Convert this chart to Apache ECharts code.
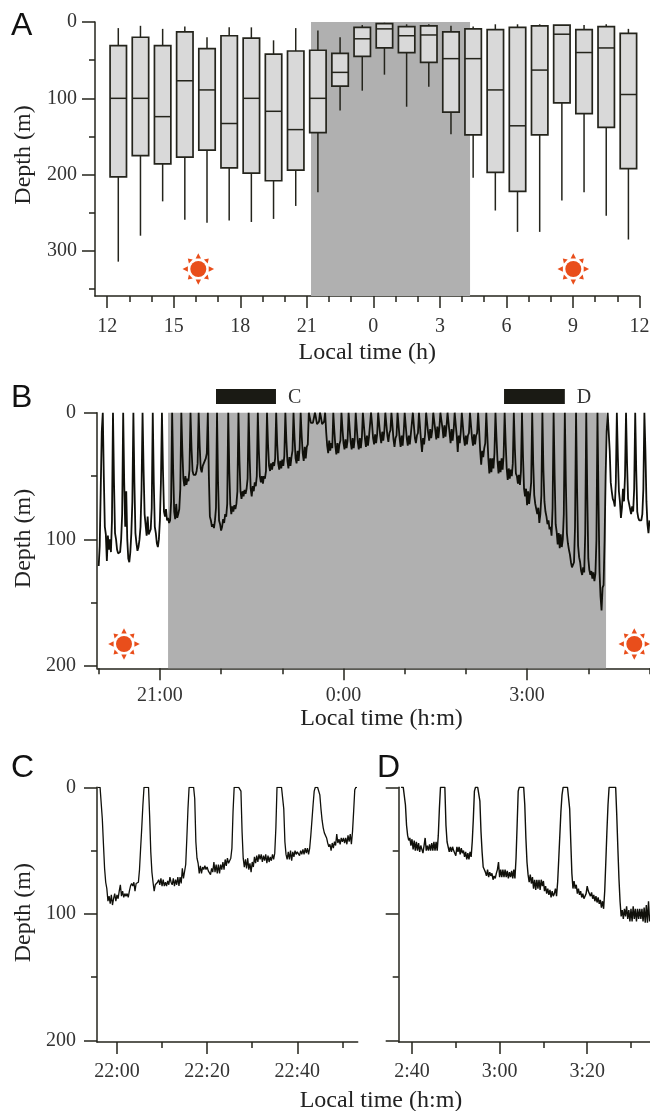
<!DOCTYPE html>
<html>
<head>
<meta charset="utf-8">
<style>html,body{margin:0;padding:0;background:#fff}#c{width:650px;height:1111px}</style>
<script src="https://cdn.jsdelivr.net/npm/echarts@6/dist/echarts.min.js"></script>
</head>
<body>
<div id="c"></div>
<script>
// ---------- Panel A: hours since 12:00, depth in metres ----------
const aHours = [0.5,1.5,2.5,3.5,4.5,5.5,6.5,7.5,8.5,9.5,10.5,11.5,12.5,13.5,14.5,15.5,16.5,17.5,18.5,19.5,20.5,21.5,22.5,23.5];
const aWhiskerTop = [8,5,9,6,20,7,7,24,8,11,20,4,1,3,3,5,6,3,3,3,4,4,3,9];
const aQ1 = [31,20,31,13,35,18,21,42,38,37,41,7,2,6,5,13,9,10,7,5,4,10,6,15];
const aMedian = [100,100,124,77,89,133,100,117,141,100,66,22,9,18,17,48,48,89,136,63,16,40,34,95];
const aQ3 = [203,175,186,177,168,191,198,208,194,145,84,45,34,40,53,118,148,197,222,148,106,120,138,192];
const aWhiskerBottom = [314,280,235,259,263,260,262,258,241,223,116,90,69,111,85,147,204,247,275,275,234,223,254,285];
const aTickHours = [0,3,6,9,12,15,18,21,24];
const aTickLabels = ['12','15','18','21','0','3','6','9','12'];
const aMinorHours = [1,2,4,5,7,8,10,11,13,14,16,17,19,20,22,23];
const aNight = [9.19,16.36];
const aDepthTicks = [0,100,200,300];
const aDepthMinor = [50,150,250,350];

// ---------- Panel B: one depth reading per minute from 20:00 ----------
const bDepth = [
121,105,60,15,
0,50,90,96,117,97,108,100,110,85,
0,55,95,100,108,111,112,110,100,80,
0,55,90,62,100,115,118,110,95,70,
0,55,95,103,109,106,100,90,60,
0,45,80,80,97,82,96,97,92,75,
0,55,90,95,103,106,100,85,55,
0,45,78,82,76,85,83,87,85,70,
0,45,78,84,72,83,80,76,60,
0,30,52,58,50,57,52,54,45,
0,28,46,49,50,49,46,40,
0,26,44,47,42,40,38,36,32,
0,50,82,85,90,88,91,85,75,
0,55,85,88,93,90,84,87,80,82,72,
0,45,72,80,74,78,73,76,72,62,
0,38,62,68,62,66,61,64,60,52,
0,36,60,66,58,62,55,58,50,
0,30,50,55,50,56,50,52,46,
0,25,42,46,40,45,39,42,36,
0,25,40,45,38,44,37,42,34,
0,22,38,44,35,42,35,30,
0,20,36,40,30,38,28,
0,18,32,38,27,36,27,25,
0,4,8,9,8,7,
0,4,9,8,7,
0,4,9,8,7,
0,15,26,32,22,30,24,28,
0,14,26,33,24,32,25,22,
0,13,24,29,21,28,22,
0,12,23,29,20,28,21,
0,12,23,29,20,28,20,
0,10,20,27,18,26,19,18,
0,9,20,25,17,24,17,
0,9,18,24,15,22,15,
0,9,18,23,16,14,
0,10,21,27,20,18,
0,10,20,27,18,26,16,
0,10,20,26,18,25,17,17,
0,10,20,24,18,16,
0,11,22,31,20,25,17,
0,8,16,22,13,20,14,
0,7,14,21,11,20,12,
0,6,12,20,10,19,11,
0,8,16,24,13,22,14,
0,9,18,31,18,24,15,
0,10,20,26,18,25,18,16,
0,10,20,26,17,25,18,16,
0,14,30,41,30,35,28,24,
0,18,36,48,36,47,36,44,32,
0,20,38,48,38,47,36,45,34,
0,24,44,53,44,52,45,50,40,
0,28,48,50,56,49,57,46,
0,35,60,66,60,73,62,72,64,55,
0,40,65,72,72,80,75,87,80,65,
0,45,70,78,82,88,85,92,90,97,75,
0,50,88,94,104,95,107,96,106,100,80,
0,55,95,103,108,112,118,122,123,118,90,
0,60,105,114,118,125,128,122,126,95,
0,65,115,124,128,125,131,126,133,127,100,
0,70,125,145,156,138,136,100,50,15,0,
0,30,55,62,68,70,74,55,
0,35,62,70,83,75,60,70,50,
0,40,68,72,76,80,74,78,60,
0,45,78,83,85,86,85,80,60,
0,30,70,88,95,85
];
const bStepMinutes = 1;
const bTickMinutes = [60,240,420];
const bTickLabels = ['21:00','0:00','3:00'];
const bMinorMinutes = [0,120,180,300,360,480,540];
const bNight = [68,497.4];
const bWindows = [[115,173.8,'C'],[397.4,457,'D']];
const depthTicks = [0,100,200];
const depthMinor = [50,150];

// ---------- Panel C: one reading per quarter minute, minutes after 22:00 ----------
const cStart = -4.25;
const cDepth = [
0,0,0,0,25,45,64,75,80,90,86,92,85,93,88,84,90,85,88,82,77,86,82,87,84,86,84,87,82,78,76,78,75,82,76,76,75,65,48,32,14,0,0,0,0,0,
23,51,67,75,82,77,78,75,73,77,72,78,73,78,75,78,74,77,71,75,77,72,78,73,77,71,78,71,76,64,72,71,61,40,17,0,0,0,0,0,
9,43,56,60,68,62,68,63,65,62,65,63,66,65,69,64,67,59,67,61,68,61,68,61,65,59,65,57,62,56,60,59,56,48,19,0,0,0,0,0,0,
3,35,56,63,57,64,56,65,60,67,59,63,55,60,54,59,53,57,53,59,54,58,53,60,54,59,55,58,53,57,52,32,0,0,0,0,0,0,
17,43,53,57,51,57,50,58,51,55,50,53,51,50,54,50,53,49,53,48,52,48,53,48,38,26,14,3,0,0,0,0,
6,17,26,32,36,37,40,44,47,45,50,44,48,43,46,37,44,41,45,40,43,40,44,40,45,38,43,37,45,35,19,2,0,0
];
const cStepMinutes = 0.25;
const cTickMinutes = [0,20,40];
const cTickLabels = ['22:00','22:20','22:40'];
const cMinorMinutes = [10,30,50];

// ---------- Panel D: one reading per quarter minute, minutes after 2:40 ----------
const dStart = -2.5;
const dDepth = [
0,0,0,0,14,30,38,42,40,46,41,49,42,50,43,50,44,51,46,49,52,46,40,50,46,50,45,50,44,50,43,50,43,50,38,17,0,0,0,0,0,
30,43,44,51,47,51,47,50,49,54,47,51,47,53,48,52,50,55,51,57,52,57,51,55,43,25,3,0,0,0,0,
11,35,51,63,65,67,70,65,71,67,70,68,73,70,72,68,65,59,71,65,71,65,71,65,71,66,72,67,71,66,72,65,72,56,30,3,0,0,0,0,0,
14,40,59,69,75,69,76,71,80,73,81,73,80,73,81,73,78,74,82,78,84,80,85,81,87,82,86,84,80,86,75,57,38,19,6,0,0,0,0,0,0,
17,43,68,80,74,80,77,84,80,85,82,87,84,88,89,84,78,82,81,86,83,88,85,90,86,91,87,92,89,95,90,96,82,59,35,14,0,0,0,0,0,0,0,
22,48,72,90,102,97,104,96,102,94,104,97,106,96,106,94,104,96,106,96,104,96,104,96,106,95,107,93,107,90,106
];
const dStepMinutes = 0.25;
const dTickMinutes = [0,20,40];
const dTickLabels = ['2:40','3:00','3:20'];
const dMinorMinutes = [10,30,50];

// ---------- styling ----------
const INK = '#24241c', SERIF = '"Liberation Serif","Times New Roman",serif', SHADE = '#b0b0b0';
const tickFont = 20, titleFont = 24;

function xPair(grid, min, max, majors, labels, minors, margin, name, nameGap, padLeft){
  const base = {type:'value', gridIndex:grid, position:'bottom', min, max, splitLine:{show:false}, axisLine:{onZero:false, lineStyle:{color:INK,width:1.5}}};
  return [
    Object.assign({}, base, {
      name: name || '', nameLocation:'middle', nameGap: nameGap || 0, nameMoveOverlap:false,
      nameTextStyle:{fontFamily:SERIF,fontSize:titleFont,color:'#222',padding:[0,0,0,padLeft||0]},
      axisTick:{show:true,length:12,customValues:majors,lineStyle:{color:INK,width:1.5}},
      axisLabel:{show:true,customValues:majors,margin,fontFamily:SERIF,fontSize:tickFont,color:'#333',
        formatter:v=>labels[majors.indexOf(v)]}
    }),
    Object.assign({}, base, {
      axisLine:{show:false,onZero:false},
      axisTick:{show:true,length:6,customValues:minors,lineStyle:{color:INK,width:1.5}},
      axisLabel:{show:false}
    })
  ];
}
function yPair(grid, max, majors, minors, showLabels, margin, nameGap, padLeft){
  const base = {type:'value', gridIndex:grid, position:'left', inverse:true, min:0, max, splitLine:{show:false}, axisLine:{onZero:false, lineStyle:{color:INK,width:1.5}}};
  return [
    Object.assign({}, base, {
      name: showLabels ? 'Depth (m)' : '', nameLocation:'middle', nameGap, nameMoveOverlap:false,
      nameTextStyle:{fontFamily:SERIF,fontSize:titleFont,color:'#222',padding:[0,0,0,padLeft||0]},
      axisTick:{show:true,length:13,customValues:majors,lineStyle:{color:INK,width:1.5}},
      axisLabel:{show:showLabels,customValues:majors,margin,fontFamily:SERIF,fontSize:tickFont,color:'#333'}
    }),
    Object.assign({}, base, {
      axisLine:{show:false,onZero:false},
      axisTick:{show:true,length:6,customValues:minors,lineStyle:{color:INK,width:1.5}},
      axisLabel:{show:false}
    })
  ];
}
function trace(grid, start, step, depths, width, extra){
  return Object.assign({
    type:'line', xAxisIndex:grid*2, yAxisIndex:grid*2, showSymbol:false, symbol:'none', animation:false,
    lineStyle:{color:'#10100a',width}, z:3,
    data:depths.map((d,i)=>[start+i*step,d])
  }, extra||{});
}
function sun(cx,cy){
  const c = '#e94e1b', kids = [{type:'circle',shape:{cx,cy,r:8},style:{fill:c}}];
  for(let k=0;k<8;k++){
    const a = k*Math.PI/4, diag = k%2===1, r0 = diag?10.6:10.4, r1 = diag?14.8:15.8, hw = 2.7;
    const ux=Math.cos(a), uy=Math.sin(a);
    kids.push({type:'polygon',shape:{points:[[cx+ux*r0-uy*hw,cy+uy*r0+ux*hw],[cx+ux*r0+uy*hw,cy+uy*r0-ux*hw],[cx+ux*r1,cy+uy*r1]]},style:{fill:c}});
  }
  return {type:'group',children:kids};
}
function moon(x,y){
  // crescent outline: outer and inner curves from the top tip to the bottom tip
  const pts=[];
  const bez=(p0,p1,p2,p3,t)=>{const m=1-t;return m*m*m*p0+3*m*m*t*p1+3*m*t*t*p2+t*t*t*p3;};
  for(let i=0;i<=16;i++){const t=i/16;
    const yy=t<.5?bez(0,1,7,13.5,t*2):bez(13.5,20,26,27,(t-.5)*2);
    const xx=t<.5?bez(19,7,0,0,t*2):bez(0,0,7,19,(t-.5)*2);
    pts.push([x+xx,y+yy]);}
  for(let i=0;i<=16;i++){const t=i/16;
    const yy=t<.5?bez(27,24,19,13.5,t*2):bez(13.5,8,3,0,(t-.5)*2);
    const xx=t<.5?bez(19,12,9.5,9.5,t*2):bez(9.5,9.5,12,19,(t-.5)*2);
    pts.push([x+xx,y+yy]);}
  return {type:'polygon',shape:{points:pts},style:{fill:'#ffe800'}};
}
function letter(t,x,y){
  return {type:'text',x,y,style:{text:t,font:'32px "Liberation Sans",Arial,sans-serif',fill:'#111',textVerticalAlign:'bottom'}};
}

const chart = echarts.init(document.getElementById('c'),null,{renderer:'canvas'});
const gridBase = {outerBoundsMode:'none'};
chart.setOption({
  backgroundColor:'#fff',
  animation:false,
  grid:[
    Object.assign({left:95,top:22,width:544.5,height:274},gridBase),
    Object.assign({left:97,top:412.7,width:553,height:255.6},gridBase),
    Object.assign({left:97,top:787.3,width:260.7,height:254.7},gridBase),
    Object.assign({left:398.7,top:787.3,width:251.3,height:254.7},gridBase)
  ],
  xAxis:[
    ...xPair(0,-0.55,24,aTickHours,aTickLabels,aMinorHours,21,'Local time (h)',45,0),
    ...xPair(1,-1.67,540.5,bTickMinutes,bTickLabels,bMinorMinutes,17,'Local time (h:m)',38,16),
    ...xPair(2,-4.43,53.4,cTickMinutes,cTickLabels,cMinorMinutes,20),
    ...xPair(3,-3.04,54.34,dTickMinutes,dTickLabels,dMinorMinutes,20)
  ],
  yAxis:[
    ...yPair(0,359,aDepthTicks,aDepthMinor,true,18,59,8),
    ...yPair(1,201.7,depthTicks,depthMinor,true,21,61,4),
    ...yPair(2,201.2,depthTicks,depthMinor,true,21,61,4),
    ...yPair(3,201.2,depthTicks,depthMinor,false,21,61,0)
  ],
  graphic:{elements:[
    letter('A',11,42),letter('B',11,414),letter('C',11,784),letter('D',377,784),
    sun(198.3,269),sun(573.3,269),sun(124,644),sun(634.3,644),
    moon(373.3,258),moon(367.5,628.3),
    {type:'text',x:381,y:1101,style:{text:'Local time (h:m)',font:titleFont+'px '+SERIF,fill:'#222',textAlign:'center',textVerticalAlign:'middle'}}
  ]},
  series:[
    {
      type:'custom', xAxisIndex:0, yAxisIndex:0, z:3, animation:false,
      data:aHours.map((h,i)=>[h,aWhiskerTop[i],aQ1[i],aMedian[i],aQ3[i],aWhiskerBottom[i]]),
      encode:{x:0,y:[1,2,3,4,5]},
      renderItem(params,api){
        const h=api.value(0), halfWidth=0.37;
        const pt=(xv,yv)=>api.coord([xv,yv]);
        const seg=(a,b)=>({type:'line',shape:{x1:a[0],y1:a[1],x2:b[0],y2:b[1]},style:{stroke:INK,lineWidth:1.5}});
        const tl=pt(h-halfWidth,api.value(2)), br=pt(h+halfWidth,api.value(4));
        return {type:'group',children:[
          seg(pt(h,api.value(1)),pt(h,api.value(2))),
          seg(pt(h,api.value(4)),pt(h,api.value(5))),
          {type:'rect',shape:{x:tl[0],y:tl[1],width:br[0]-tl[0],height:br[1]-tl[1]},style:{fill:'#d9d9d9',stroke:INK,lineWidth:1.7}},
          seg(pt(h-halfWidth,api.value(3)),pt(h+halfWidth,api.value(3)))
        ]};
      },
      markArea:{silent:true,itemStyle:{color:SHADE},label:{show:false},data:[[{xAxis:aNight[0]},{xAxis:aNight[1]}]]}
    },
    trace(1,0,bStepMinutes,bDepth,1.8,{markArea:{silent:true,itemStyle:{color:SHADE},label:{show:false},data:[[{xAxis:bNight[0]},{xAxis:bNight[1]}]]}}),
    {
      type:'custom', xAxisIndex:2, yAxisIndex:2, z:4, animation:false, clip:false,
      data:bWindows,
      encode:{x:[0,1]},
      renderItem(params,api){
        const a=api.coord([api.value(0),-18.7]), b=api.coord([api.value(1),-6.9]);
        return {type:'group',children:[
          {type:'rect',shape:{x:a[0],y:a[1],width:b[0]-a[0],height:b[1]-a[1]},style:{fill:'#1a1a14'}},
          {type:'text',style:{text:bWindows[params.dataIndex][2],x:b[0]+12,y:(a[1]+b[1])/2+1,font:'20px '+SERIF,fill:'#333',textVerticalAlign:'middle'}}
        ]};
      }
    },
    trace(2,cStart,cStepMinutes,cDepth,1.3),
    trace(3,dStart,dStepMinutes,dDepth,1.4)
  ]
});
</script>
</body>
</html>
